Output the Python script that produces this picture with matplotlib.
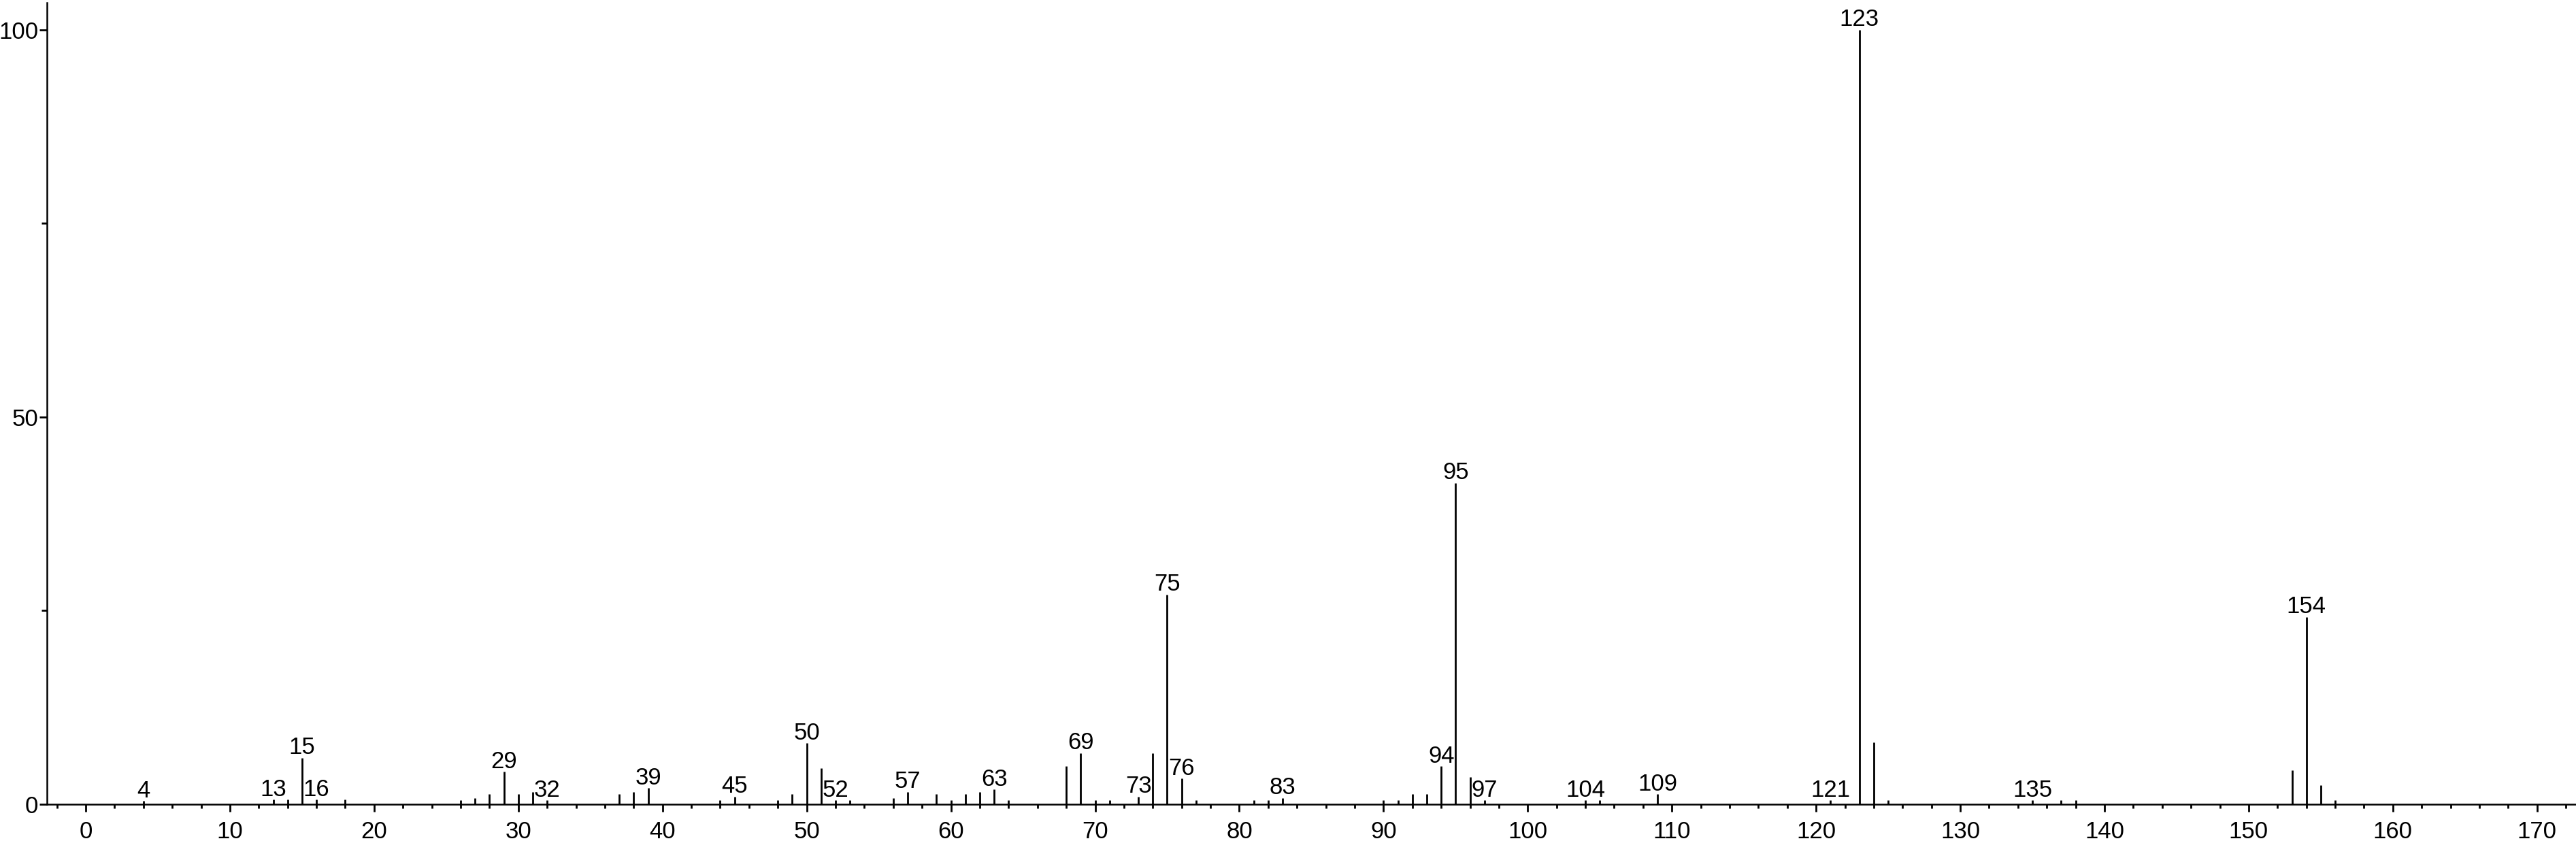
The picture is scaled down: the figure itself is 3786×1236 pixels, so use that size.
import matplotlib
matplotlib.use("Agg")
import matplotlib.pyplot as plt
from matplotlib.ticker import MultipleLocator

plt.rcParams['font.family'] = ['Liberation Sans', 'DejaVu Sans']

# m/z values and relative intensities
mz = [4, 13, 14, 15, 16, 18, 26, 27, 28, 29, 30, 31, 32, 37, 38, 39, 44, 45, 48, 49,
      50, 51, 52, 53, 56, 57, 59, 60, 61, 62, 63, 64, 68, 69, 70, 71, 73, 74, 75, 76,
      77, 81, 82, 83, 90, 91, 92, 93, 94, 95, 96, 97, 104, 105, 109, 121, 123, 124,
      125, 135, 137, 138, 153, 154, 155, 156]
intensity = [0.4, 0.6, 0.6, 6.0, 0.6, 0.6, 0.5, 0.8, 1.3, 4.2, 1.3, 1.6, 0.5, 1.3, 1.6, 2.1, 0.5, 1.0, 0.5, 1.3,
             7.9, 4.7, 0.5, 0.5, 0.8, 1.6, 1.3, 0.5, 1.3, 1.6, 1.9, 0.5, 4.9, 6.6, 0.5, 0.5, 1.0, 6.6, 27.1, 3.3,
             0.5, 0.5, 0.5, 0.8, 0.5, 0.5, 1.3, 1.3, 4.9, 41.5, 3.5, 0.5, 0.5, 0.5, 1.3, 0.5, 100.0, 8.0,
             0.5, 0.5, 0.5, 0.5, 4.4, 24.2, 2.5, 0.5]

# peaks that carry an m/z label
labeled = [4, 13, 15, 16, 29, 32, 39, 45, 50, 52, 57, 63, 69, 73, 75, 76, 83, 94, 95, 97,
           104, 109, 121, 123, 135, 154]

x_major = list(range(0, 171, 10))
y_major = [0, 50, 100]

fig = plt.figure(figsize=(37.86, 12.36), dpi=100)
ax = fig.add_axes([69 / 3786, 1 - 1182 / 1236, 1 - 69 / 3786, (1182 - 4) / 1236])

ax.vlines(mz, 0, intensity, colors='black', linewidth=2.0)

lookup = dict(zip(mz, intensity))
for m in labeled:
    ax.annotate(str(m), xy=(m, lookup[m]), xytext=(0, 4), textcoords='offset points',
                ha='center', va='baseline', fontsize=25, color='black')

ax.set_xlim(-2.69, 172.7)
ax.set_ylim(0, 103.5)

for s in ['top', 'right']:
    ax.spines[s].set_visible(False)
for s in ['left', 'bottom']:
    ax.spines[s].set_linewidth(1.8)

ax.set_xticks(x_major)
ax.set_xticklabels([str(v) for v in x_major])
ax.xaxis.set_minor_locator(MultipleLocator(2))
ax.set_yticks(y_major)
ax.set_yticklabels([str(v) for v in y_major])
ax.yaxis.set_minor_locator(MultipleLocator(25))

ax.tick_params(axis='x', which='major', direction='out', length=8, width=2, labelsize=25, pad=9)
ax.tick_params(axis='x', which='minor', direction='out', length=4.5, width=2)
ax.tick_params(axis='y', which='major', direction='out', length=8, width=2, labelsize=25, pad=1)
ax.tick_params(axis='y', which='minor', direction='out', length=6, width=2)

fig.savefig('out.png', dpi=100, facecolor='white')
